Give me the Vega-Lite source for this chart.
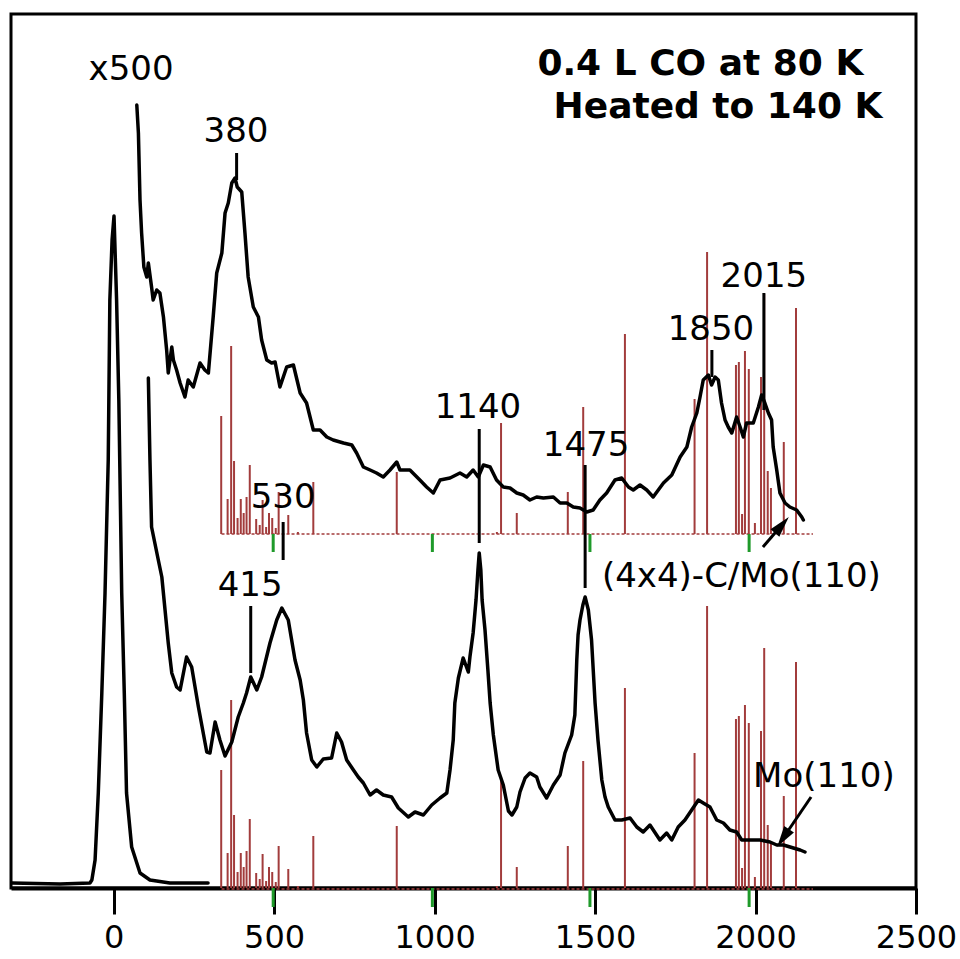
{
  "$schema": "https://vega.github.io/schema/vega-lite/v6.json",
  "width": 905,
  "height": 874,
  "autosize": {"type": "none"},
  "padding": {"left": 11, "top": 14, "right": 44, "bottom": 71},
  "background": "white",
  "config": {
    "view": {"stroke": "black", "strokeWidth": 3},
    "axisX": {
      "domainColor": "black", "domainWidth": 4,
      "tickColor": "black", "tickWidth": 3, "tickSize": 26,
      "labelFont": "DejaVu Sans", "labelFontSize": 32, "labelColor": "black",
      "labelPadding": 8, "labelFlush": false, "labelOverlap": false,
      "grid": false, "title": null
    }
  },
  "datasets": {
    "spectra": [
      {"s":"elastic","v":-317,"y":5},{"s":"elastic","v":-167,"y":4},{"s":"elastic","v":-74,"y":5},{"s":"elastic","v":-68,"y":8},{"s":"elastic","v":-58,"y":28},{"s":"elastic","v":-48,"y":95},{"s":"elastic","v":-37,"y":195},{"s":"elastic","v":-27,"y":295},{"s":"elastic","v":-17,"y":428},{"s":"elastic","v":-12,"y":588},{"s":"elastic","v":-5,"y":648},{"s":"elastic","v":1,"y":672},{"s":"elastic","v":9,"y":588},{"s":"elastic","v":16,"y":488},{"s":"elastic","v":25,"y":295},{"s":"elastic","v":33,"y":195},{"s":"elastic","v":40,"y":95},{"s":"elastic","v":56,"y":41},{"s":"elastic","v":82,"y":15},{"s":"elastic","v":113,"y":8},{"s":"elastic","v":175,"y":5},{"s":"elastic","v":294,"y":5},
      {"s":"lower","v":108,"y":510},{"s":"lower","v":113,"y":428},{"s":"lower","v":118,"y":361},{"s":"lower","v":139,"y":328},{"s":"lower","v":150,"y":311},{"s":"lower","v":160,"y":278},{"s":"lower","v":170,"y":245},{"s":"lower","v":181,"y":215},{"s":"lower","v":196,"y":201},{"s":"lower","v":207,"y":198},{"s":"lower","v":227,"y":231},{"s":"lower","v":243,"y":221},{"s":"lower","v":264,"y":181},{"s":"lower","v":290,"y":136},{"s":"lower","v":300,"y":135},{"s":"lower","v":316,"y":166},{"s":"lower","v":331,"y":148},{"s":"lower","v":347,"y":132},{"s":"lower","v":368,"y":146},{"s":"lower","v":388,"y":171},{"s":"lower","v":404,"y":185},{"s":"lower","v":414,"y":195},{"s":"lower","v":427,"y":211},{"s":"lower","v":446,"y":198},{"s":"lower","v":461,"y":211},{"s":"lower","v":487,"y":245},{"s":"lower","v":508,"y":268},{"s":"lower","v":524,"y":280},{"s":"lower","v":544,"y":268},{"s":"lower","v":565,"y":228},{"s":"lower","v":581,"y":208},{"s":"lower","v":591,"y":188},{"s":"lower","v":601,"y":155},{"s":"lower","v":617,"y":128},{"s":"lower","v":633,"y":121},{"s":"lower","v":653,"y":129},{"s":"lower","v":679,"y":130},{"s":"lower","v":695,"y":155},{"s":"lower","v":710,"y":146},{"s":"lower","v":726,"y":128},{"s":"lower","v":747,"y":118},{"s":"lower","v":762,"y":111},{"s":"lower","v":778,"y":105},{"s":"lower","v":799,"y":93},{"s":"lower","v":819,"y":98},{"s":"lower","v":840,"y":93},{"s":"lower","v":866,"y":91},{"s":"lower","v":887,"y":80},{"s":"lower","v":918,"y":71},{"s":"lower","v":939,"y":76},{"s":"lower","v":965,"y":73},{"s":"lower","v":991,"y":83},{"s":"lower","v":1017,"y":90},{"s":"lower","v":1038,"y":95},{"s":"lower","v":1048,"y":118},{"s":"lower","v":1058,"y":148},{"s":"lower","v":1063,"y":185},{"s":"lower","v":1074,"y":210},{"s":"lower","v":1089,"y":230},{"s":"lower","v":1105,"y":216},{"s":"lower","v":1110,"y":231},{"s":"lower","v":1120,"y":255},{"s":"lower","v":1129,"y":288},{"s":"lower","v":1135,"y":318},{"s":"lower","v":1139,"y":335},{"s":"lower","v":1144,"y":318},{"s":"lower","v":1148,"y":288},{"s":"lower","v":1157,"y":258},{"s":"lower","v":1166,"y":218},{"s":"lower","v":1173,"y":185},{"s":"lower","v":1183,"y":153},{"s":"lower","v":1198,"y":118},{"s":"lower","v":1214,"y":103},{"s":"lower","v":1230,"y":77},{"s":"lower","v":1241,"y":73},{"s":"lower","v":1256,"y":81},{"s":"lower","v":1266,"y":96},{"s":"lower","v":1282,"y":110},{"s":"lower","v":1297,"y":115},{"s":"lower","v":1318,"y":111},{"s":"lower","v":1328,"y":101},{"s":"lower","v":1349,"y":90},{"s":"lower","v":1370,"y":103},{"s":"lower","v":1391,"y":113},{"s":"lower","v":1406,"y":135},{"s":"lower","v":1427,"y":153},{"s":"lower","v":1437,"y":173},{"s":"lower","v":1443,"y":228},{"s":"lower","v":1447,"y":253},{"s":"lower","v":1453,"y":268},{"s":"lower","v":1462,"y":283},{"s":"lower","v":1469,"y":291},{"s":"lower","v":1479,"y":278},{"s":"lower","v":1489,"y":248},{"s":"lower","v":1500,"y":185},{"s":"lower","v":1509,"y":148},{"s":"lower","v":1521,"y":108},{"s":"lower","v":1531,"y":91},{"s":"lower","v":1541,"y":81},{"s":"lower","v":1562,"y":68},{"s":"lower","v":1583,"y":68},{"s":"lower","v":1609,"y":70},{"s":"lower","v":1630,"y":61},{"s":"lower","v":1650,"y":56},{"s":"lower","v":1671,"y":63},{"s":"lower","v":1702,"y":48},{"s":"lower","v":1723,"y":55},{"s":"lower","v":1739,"y":48},{"s":"lower","v":1759,"y":61},{"s":"lower","v":1780,"y":68},{"s":"lower","v":1801,"y":78},{"s":"lower","v":1822,"y":88},{"s":"lower","v":1837,"y":85},{"s":"lower","v":1858,"y":81},{"s":"lower","v":1879,"y":68},{"s":"lower","v":1900,"y":65},{"s":"lower","v":1920,"y":58},{"s":"lower","v":1941,"y":56},{"s":"lower","v":1957,"y":48},{"s":"lower","v":1983,"y":48},{"s":"lower","v":2014,"y":48},{"s":"lower","v":2045,"y":46},{"s":"lower","v":2066,"y":43},{"s":"lower","v":2087,"y":43},{"s":"lower","v":2118,"y":40},{"s":"lower","v":2139,"y":38},{"s":"lower","v":2154,"y":36},
      {"s":"upper","v":72,"y":783},{"s":"upper","v":77,"y":755},{"s":"upper","v":82,"y":688},{"s":"upper","v":87,"y":655},{"s":"upper","v":94,"y":621},{"s":"upper","v":103,"y":611},{"s":"upper","v":108,"y":625},{"s":"upper","v":118,"y":601},{"s":"upper","v":123,"y":588},{"s":"upper","v":134,"y":598},{"s":"upper","v":144,"y":595},{"s":"upper","v":155,"y":571},{"s":"upper","v":165,"y":538},{"s":"upper","v":170,"y":515},{"s":"upper","v":181,"y":541},{"s":"upper","v":186,"y":528},{"s":"upper","v":196,"y":518},{"s":"upper","v":207,"y":505},{"s":"upper","v":222,"y":491},{"s":"upper","v":232,"y":508},{"s":"upper","v":248,"y":501},{"s":"upper","v":269,"y":525},{"s":"upper","v":284,"y":518},{"s":"upper","v":295,"y":515},{"s":"upper","v":310,"y":571},{"s":"upper","v":321,"y":615},{"s":"upper","v":337,"y":635},{"s":"upper","v":347,"y":675},{"s":"upper","v":357,"y":685},{"s":"upper","v":368,"y":705},{"s":"upper","v":378,"y":710},{"s":"upper","v":385,"y":701},{"s":"upper","v":399,"y":696},{"s":"upper","v":409,"y":655},{"s":"upper","v":419,"y":611},{"s":"upper","v":435,"y":581},{"s":"upper","v":451,"y":571},{"s":"upper","v":461,"y":548},{"s":"upper","v":477,"y":528},{"s":"upper","v":492,"y":525},{"s":"upper","v":503,"y":526},{"s":"upper","v":518,"y":501},{"s":"upper","v":539,"y":521},{"s":"upper","v":560,"y":523},{"s":"upper","v":581,"y":495},{"s":"upper","v":601,"y":485},{"s":"upper","v":622,"y":458},{"s":"upper","v":643,"y":458},{"s":"upper","v":664,"y":451},{"s":"upper","v":684,"y":448},{"s":"upper","v":716,"y":445},{"s":"upper","v":742,"y":443},{"s":"upper","v":757,"y":435},{"s":"upper","v":778,"y":421},{"s":"upper","v":799,"y":418},{"s":"upper","v":819,"y":415},{"s":"upper","v":840,"y":411},{"s":"upper","v":861,"y":418},{"s":"upper","v":882,"y":426},{"s":"upper","v":892,"y":418},{"s":"upper","v":923,"y":418},{"s":"upper","v":954,"y":408},{"s":"upper","v":975,"y":401},{"s":"upper","v":996,"y":395},{"s":"upper","v":1017,"y":408},{"s":"upper","v":1048,"y":410},{"s":"upper","v":1079,"y":415},{"s":"upper","v":1100,"y":411},{"s":"upper","v":1120,"y":418},{"s":"upper","v":1136,"y":411},{"s":"upper","v":1152,"y":423},{"s":"upper","v":1173,"y":421},{"s":"upper","v":1193,"y":408},{"s":"upper","v":1214,"y":401},{"s":"upper","v":1235,"y":400},{"s":"upper","v":1256,"y":395},{"s":"upper","v":1276,"y":393},{"s":"upper","v":1297,"y":388},{"s":"upper","v":1318,"y":391},{"s":"upper","v":1339,"y":390},{"s":"upper","v":1370,"y":391},{"s":"upper","v":1391,"y":385},{"s":"upper","v":1412,"y":385},{"s":"upper","v":1432,"y":381},{"s":"upper","v":1453,"y":380},{"s":"upper","v":1474,"y":376},{"s":"upper","v":1494,"y":378},{"s":"upper","v":1515,"y":388},{"s":"upper","v":1536,"y":395},{"s":"upper","v":1562,"y":408},{"s":"upper","v":1583,"y":410},{"s":"upper","v":1604,"y":401},{"s":"upper","v":1619,"y":398},{"s":"upper","v":1640,"y":403},{"s":"upper","v":1661,"y":398},{"s":"upper","v":1681,"y":391},{"s":"upper","v":1713,"y":405},{"s":"upper","v":1739,"y":413},{"s":"upper","v":1765,"y":431},{"s":"upper","v":1786,"y":441},{"s":"upper","v":1801,"y":461},{"s":"upper","v":1817,"y":475},{"s":"upper","v":1827,"y":491},{"s":"upper","v":1837,"y":508},{"s":"upper","v":1853,"y":513},{"s":"upper","v":1863,"y":503},{"s":"upper","v":1874,"y":511},{"s":"upper","v":1884,"y":508},{"s":"upper","v":1894,"y":485},{"s":"upper","v":1905,"y":468},{"s":"upper","v":1915,"y":461},{"s":"upper","v":1926,"y":455},{"s":"upper","v":1941,"y":471},{"s":"upper","v":1952,"y":461},{"s":"upper","v":1962,"y":451},{"s":"upper","v":1972,"y":465},{"s":"upper","v":1993,"y":465},{"s":"upper","v":2009,"y":481},{"s":"upper","v":2019,"y":493},{"s":"upper","v":2029,"y":485},{"s":"upper","v":2040,"y":475},{"s":"upper","v":2050,"y":468},{"s":"upper","v":2055,"y":441},{"s":"upper","v":2066,"y":418},{"s":"upper","v":2076,"y":395},{"s":"upper","v":2092,"y":385},{"s":"upper","v":2107,"y":381},{"s":"upper","v":2128,"y":378},{"s":"upper","v":2144,"y":371},{"s":"upper","v":2149,"y":368}
    ],
    "sticks": [
      {"set":"upper","v":335,"y":354,"y2":472},{"set":"upper","v":355,"y":354,"y2":389},{"set":"upper","v":366,"y":354,"y2":542},{"set":"upper","v":375,"y":354,"y2":427},{"set":"upper","v":386,"y":354,"y2":370},{"set":"upper","v":396,"y":354,"y2":389},{"set":"upper","v":405,"y":354,"y2":375},{"set":"upper","v":414,"y":354,"y2":391},{"set":"upper","v":424,"y":354,"y2":423},{"set":"upper","v":444,"y":354,"y2":369},{"set":"upper","v":455,"y":354,"y2":363},{"set":"upper","v":464,"y":354,"y2":388},{"set":"upper","v":475,"y":354,"y2":361},{"set":"upper","v":484,"y":354,"y2":375},{"set":"upper","v":494,"y":354,"y2":370},{"set":"upper","v":505,"y":354,"y2":360},{"set":"upper","v":514,"y":354,"y2":396},{"set":"upper","v":544,"y":354,"y2":373},{"set":"upper","v":574,"y":354,"y2":356},{"set":"upper","v":622,"y":354,"y2":406},{"set":"upper","v":882,"y":354,"y2":416},{"set":"upper","v":1194,"y":354,"y2":356},{"set":"upper","v":1207,"y":354,"y2":465},{"set":"upper","v":1256,"y":354,"y2":375},{"set":"upper","v":1415,"y":354,"y2":396},{"set":"upper","v":1463,"y":354,"y2":481},{"set":"upper","v":1593,"y":354,"y2":554},{"set":"upper","v":1810,"y":354,"y2":489},{"set":"upper","v":1849,"y":354,"y2":636},{"set":"upper","v":1939,"y":354,"y2":523},{"set":"upper","v":1948,"y":354,"y2":526},{"set":"upper","v":1958,"y":354,"y2":374},{"set":"upper","v":1967,"y":354,"y2":537},{"set":"upper","v":1979,"y":354,"y2":519},{"set":"upper","v":1998,"y":354,"y2":365},{"set":"upper","v":2017,"y":354,"y2":511},{"set":"upper","v":2027,"y":354,"y2":594},{"set":"upper","v":2038,"y":354,"y2":417},{"set":"upper","v":2048,"y":354,"y2":400},{"set":"upper","v":2088,"y":354,"y2":446},{"set":"upper","v":2126,"y":354,"y2":580},
      {"set":"lower","v":335,"y":0,"y2":118},{"set":"lower","v":355,"y":0,"y2":35},{"set":"lower","v":366,"y":0,"y2":188},{"set":"lower","v":375,"y":0,"y2":73},{"set":"lower","v":386,"y":0,"y2":16},{"set":"lower","v":396,"y":0,"y2":35},{"set":"lower","v":405,"y":0,"y2":21},{"set":"lower","v":414,"y":0,"y2":37},{"set":"lower","v":424,"y":0,"y2":69},{"set":"lower","v":444,"y":0,"y2":15},{"set":"lower","v":455,"y":0,"y2":9},{"set":"lower","v":464,"y":0,"y2":34},{"set":"lower","v":475,"y":0,"y2":7},{"set":"lower","v":484,"y":0,"y2":21},{"set":"lower","v":494,"y":0,"y2":16},{"set":"lower","v":505,"y":0,"y2":6},{"set":"lower","v":514,"y":0,"y2":42},{"set":"lower","v":544,"y":0,"y2":19},{"set":"lower","v":574,"y":0,"y2":2},{"set":"lower","v":622,"y":0,"y2":52},{"set":"lower","v":882,"y":0,"y2":62},{"set":"lower","v":1194,"y":0,"y2":2},{"set":"lower","v":1207,"y":0,"y2":111},{"set":"lower","v":1256,"y":0,"y2":21},{"set":"lower","v":1415,"y":0,"y2":42},{"set":"lower","v":1463,"y":0,"y2":127},{"set":"lower","v":1593,"y":0,"y2":200},{"set":"lower","v":1810,"y":0,"y2":135},{"set":"lower","v":1849,"y":0,"y2":282},{"set":"lower","v":1939,"y":0,"y2":169},{"set":"lower","v":1948,"y":0,"y2":172},{"set":"lower","v":1958,"y":0,"y2":20},{"set":"lower","v":1967,"y":0,"y2":183},{"set":"lower","v":1979,"y":0,"y2":165},{"set":"lower","v":1998,"y":0,"y2":11},{"set":"lower","v":2017,"y":0,"y2":157},{"set":"lower","v":2027,"y":0,"y2":240},{"set":"lower","v":2038,"y":0,"y2":63},{"set":"lower","v":2048,"y":0,"y2":46},{"set":"lower","v":2088,"y":0,"y2":92},{"set":"lower","v":2126,"y":0,"y2":226}
    ],
    "baselines": [
      {"v":336,"v2":2179,"y":354},{"v":336,"v2":2179,"y":-1}
    ],
    "green": [
      {"v":497,"y":336,"y2":354},{"v":993,"y":336,"y2":354},{"v":1484,"y":336,"y2":354},{"v":1980,"y":336,"y2":354},
      {"v":497,"y":-19,"y2":0},{"v":993,"y":-19,"y2":0},{"v":1484,"y":-19,"y2":0},{"v":1980,"y":-19,"y2":0}
    ],
    "markers": [
      {"v":383,"y":708,"y2":735},{"v":528,"y":328,"y2":366},{"v":1139,"y":345,"y2":459},{"v":1469,"y":300,"y2":423},{"v":427,"y":215,"y2":282},{"v":1864,"y":511,"y2":538},{"v":2026,"y":478,"y2":595},
      {"v":2023,"y":341,"v2":2082,"y2":363},{"v":2173,"y":91,"v2":2086,"y2":50}
    ],
    "heads": [
      {"v":2082,"y":363,"angle":41},{"v":2086,"y":50,"angle":214}
    ],
    "labels": [
      {"t":"x500","v":54,"y":818},{"t":"380","v":381,"y":756},{"t":"530","v":528,"y":390},{"t":"415","v":425,"y":302},{"t":"1140","v":1135,"y":480},{"t":"1475","v":1472,"y":442},{"t":"1850","v":1861,"y":558},{"t":"2015","v":2026,"y":611},{"t":"Mo(110)","v":2213,"y":111},{"t":"(4x4)-C/Mo(110)","v":1956,"y":311}
    ],
    "titles": [
      {"t":"0.4 L CO at 80 K","v":1828,"y":824},{"t":"Heated to 140 K","v":1883,"y":781}
    ]
  },
  "encoding": {
    "x": {"field": "v", "type": "quantitative", "title": null,
          "scale": {"domain": [-320, 2500], "nice": false, "zero": false},
          "axis": {"values": [0, 500, 1000, 1500, 2000, 2500], "format": "d", "title": null}},
    "y": {"field": "y", "type": "quantitative", "title": null,
          "scale": {"domain": [0, 874], "nice": false, "zero": false}, "axis": null}
  },
  "layer": [
    {"data": {"name": "baselines"}, "mark": {"type": "rule", "color": "#a23c3c", "strokeWidth": 1.5, "strokeDash": [3, 2]},
     "encoding": {"x2": {"field": "v2"}}},
    {"data": {"name": "sticks"}, "mark": {"type": "rule", "color": "#a23c3c", "strokeWidth": 2},
     "encoding": {"y2": {"field": "y2"}}},
    {"data": {"name": "green"}, "mark": {"type": "rule", "color": "#1f9a2a", "strokeWidth": 3},
     "encoding": {"y2": {"field": "y2"}}},
    {"data": {"name": "spectra"}, "mark": {"type": "line", "color": "black", "strokeWidth": 3.5, "strokeJoin": "round", "strokeCap": "round"},
     "encoding": {"detail": {"field": "s"}}},
    {"data": {"name": "markers"}, "mark": {"type": "rule", "color": "black", "strokeWidth": 3},
     "encoding": {"x2": {"field": "v2"}, "y2": {"field": "y2"}}},
    {"data": {"name": "heads"}, "mark": {"type": "point", "shape": "M0,-1L0.55,1L-0.55,1Z", "filled": true, "color": "black", "opacity": 1, "size": 450},
     "encoding": {"angle": {"field": "angle", "type": "quantitative", "scale": null}}},
    {"data": {"name": "labels"}, "mark": {"type": "text", "font": "DejaVu Sans", "fontSize": 34, "color": "black", "align": "center", "baseline": "middle"},
     "encoding": {"text": {"field": "t"}}},
    {"data": {"name": "titles"}, "mark": {"type": "text", "font": "DejaVu Sans", "fontWeight": "bold", "fontSize": 36, "color": "black", "align": "center", "baseline": "middle"},
     "encoding": {"text": {"field": "t"}}}
  ]
}
